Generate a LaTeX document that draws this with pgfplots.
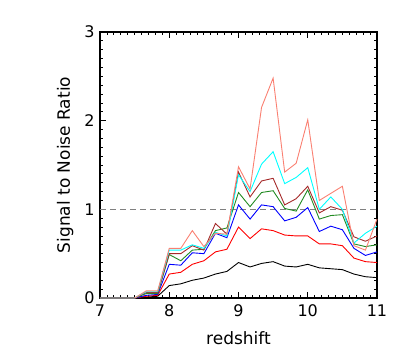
\documentclass[border=0pt]{standalone}
\usepackage{fontspec}
\setmainfont{DejaVu Sans}
\usepackage{pgfplots}
\pgfplotsset{compat=1.18}
\usepackage{pgfplotstable}

\definecolor{snrsalmon}{RGB}{250,128,114}
\definecolor{snrbrown}{RGB}{165,42,42}
\definecolor{snrgreen}{RGB}{34,139,34}
\definecolor{snrcyan}{RGB}{0,255,255}
\definecolor{snrred}{RGB}{255,0,0}
\definecolor{snrblue}{RGB}{0,0,255}

% signal to noise per redshift bin, one column per curve
\pgfplotstableread{
z      k     r     b     g     br    c     s
7.000  0.00  0.00  0.00  0.00  0.00  0.00  0.00
7.500  0.00  0.00  0.00  0.00  0.00  0.00  0.00
7.667  0.01  0.02  0.03  0.05  0.06  0.07  0.08
7.833  0.02  0.03  0.04  0.05  0.06  0.07  0.08
8.000  0.14  0.27  0.38  0.49  0.50  0.54  0.56
8.167  0.16  0.29  0.37  0.42  0.50  0.54  0.56
8.333  0.20  0.38  0.51  0.54  0.59  0.60  0.76
8.500  0.225 0.42  0.50  0.55  0.54  0.56  0.58
8.667  0.27  0.52  0.73  0.76  0.84  0.74  0.73
8.833  0.30  0.55  0.68  0.79  0.72  0.70  0.72
9.000  0.40  0.80  1.05  1.19  1.42  1.39  1.48
9.167  0.35  0.67  0.89  1.03  1.14  1.20  1.23
9.333  0.39  0.78  1.05  1.19  1.32  1.51  2.15
9.500  0.41  0.76  1.03  1.21  1.35  1.65  2.48
9.667  0.36  0.71  0.87  1.01  1.05  1.29  1.42
9.833  0.35  0.70  0.91  0.98  1.12  1.36  1.52
10.000 0.38  0.70  1.02  1.22  1.26  1.47  2.01
10.167 0.34  0.61  0.75  0.89  0.96  1.00  1.10
10.333 0.33  0.61  0.81  0.93  1.03  1.14  1.18
10.500 0.32  0.59  0.77  0.94  0.99  1.00  1.26
10.667 0.27  0.45  0.56  0.61  0.69  0.62  0.59
10.833 0.24  0.41  0.48  0.58  0.64  0.73  0.54
11.000 0.23  0.40  0.52  0.60  0.70  0.81  0.89
}\snr

\begin{document}
\begin{tikzpicture}
\useasboundingbox (-100pt,-64pt) rectangle (307pt,298pt);
\begin{axis}[
  at={(0,0)}, anchor=south west,
  scale only axis,
  width=277pt, height=266pt,
  xmin=7, xmax=11, ymin=0, ymax=3,
  xtick={7,8,9,10,11}, ytick={0,1,2,3},
  minor x tick num=9, minor y tick num=9,
  major tick length=6pt, minor tick length=3pt,
  tick style={black, line width=0.8pt},
  axis line style={line width=1.2pt},
  /pgf/number format/assume math mode=true,
  ticklabel style={font=\fontsize{16}{16}\selectfont},
  xticklabel style={yshift=-3pt},
  yticklabel style={xshift=-2pt},
  xlabel={redshift}, ylabel={Signal to Noise Ratio},
  label style={font=\fontsize{17}{17}\selectfont},
  xlabel style={at={(axis description cs:0.5,-0.150)}, anchor=center},
  ylabel style={at={(axis description cs:-0.126,0.5)}, anchor=center},
  clip=false,
  every axis plot/.append style={line width=0.9pt, mark=none},
]
\addplot[gray, dashed, line width=0.7pt, dash pattern=on 6pt off 4pt] coordinates {(7,1) (11,1)};
\addplot[black] table[x=z, y=k] {\snr};
\addplot[snrred] table[x=z, y=r] {\snr};
\addplot[snrblue] table[x=z, y=b] {\snr};
\addplot[snrgreen] table[x=z, y=g] {\snr};
\addplot[snrbrown] table[x=z, y=br] {\snr};
\addplot[snrcyan] table[x=z, y=c] {\snr};
\addplot[snrsalmon] table[x=z, y=s] {\snr};
\end{axis}
\end{tikzpicture}
\end{document}
